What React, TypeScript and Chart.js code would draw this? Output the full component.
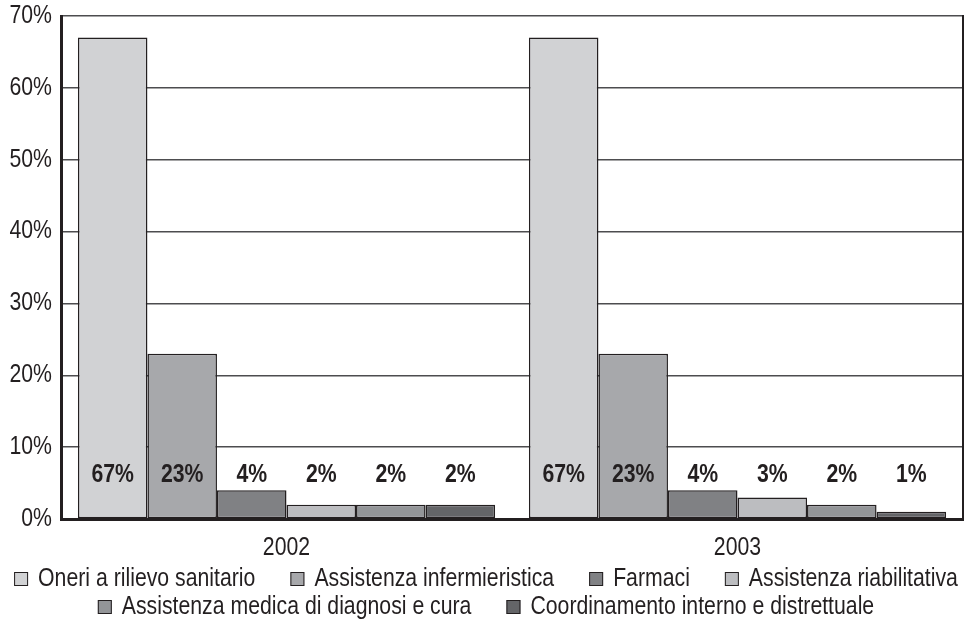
import React, { useEffect, useRef } from "react";
import { Chart, registerables } from "chart.js";

Chart.register(...registerables);

// Categories and series
const years = ["2002", "2003"];
const seriesNames = [
  "Oneri a rilievo sanitario",
  "Assistenza infermieristica",
  "Farmaci",
  "Assistenza riabilitativa",
  "Assistenza medica di diagnosi e cura",
  "Coordinamento interno e distrettuale",
];
// Share of spending (%) per series, one array per year
const values2002 = [67, 23, 4, 2, 2, 2];
const values2003 = [67, 23, 4, 3, 2, 1];
const seriesColors = ["#d1d2d4", "#a7a8ab", "#808184", "#bcbdc0", "#939598", "#646568"];
const yTicks = [0, 10, 20, 30, 40, 50, 60, 70];
// Legend rows (indices into seriesNames)
const legendRows = [
  [0, 1, 2, 3],
  [4, 5],
];

const FAMILY = "'Liberation Sans', Arial, Helvetica, sans-serif";
const INK = "#231f20";
// Horizontal squeeze giving a condensed look to the sans-serif face
const SQUEEZE = 0.85;

function squeezedText(
  ctx: CanvasRenderingContext2D,
  text: string,
  x: number,
  y: number,
  align: CanvasTextAlign,
  font: string
) {
  ctx.save();
  ctx.font = font;
  ctx.fillStyle = INK;
  ctx.textAlign = align;
  ctx.textBaseline = "middle";
  ctx.translate(x, y);
  ctx.scale(SQUEEZE, 1);
  ctx.fillText(text, 0, 0);
  ctx.restore();
}

function squeezedWidth(ctx: CanvasRenderingContext2D, text: string, font: string) {
  ctx.save();
  ctx.font = font;
  const w = ctx.measureText(text).width * SQUEEZE;
  ctx.restore();
  return w;
}

const REGULAR = `25px ${FAMILY}`;
const BOLD = `bold 25px ${FAMILY}`;

// Axis tick labels, bar value labels and the legend
const textLayer = {
  id: "textLayer",
  afterDraw(chart: any) {
    const { ctx, scales, chartArea } = chart;
    const xs = scales.x;
    const ys = scales.y;

    // frame on the right side of the plot
    ctx.save();
    ctx.strokeStyle = INK;
    ctx.lineWidth = 2;
    ctx.beginPath();
    ctx.moveTo(chartArea.right, chartArea.top - 1);
    ctx.lineTo(chartArea.right, chartArea.bottom);
    ctx.stroke();
    ctx.restore();

    yTicks.forEach((v) => {
      squeezedText(ctx, `${v}%`, chartArea.left - 9, ys.getPixelForValue(v), "right", REGULAR);
    });

    years.forEach((label, i) => {
      squeezedText(ctx, label, xs.getPixelForValue(i), chartArea.bottom + 29, "center", REGULAR);
    });

    const baseY = ys.getPixelForValue(0);
    chart.data.datasets.forEach((ds: any, i: number) => {
      const meta = chart.getDatasetMeta(i);
      meta.data.forEach((bar: any, j: number) => {
        squeezedText(ctx, `${ds.data[j]}%`, bar.x, baseY - 44, "center", BOLD);
      });
    });

    // legend
    const box = 14;
    const boxGap = 10;
    const itemGap = 35;
    const rowY = [579, 607];
    const centerX = 486;
    legendRows.forEach((row, r) => {
      const widths = row.map((k) => box + boxGap + squeezedWidth(ctx, seriesNames[k], REGULAR));
      const total = widths.reduce((a, b) => a + b, 0) + itemGap * (row.length - 1);
      let x = centerX - total / 2;
      row.forEach((k, n) => {
        const y = rowY[r];
        ctx.save();
        ctx.fillStyle = seriesColors[k];
        ctx.strokeStyle = INK;
        ctx.lineWidth = 1;
        ctx.fillRect(x, y - box / 2, box, box);
        ctx.strokeRect(x + 0.5, y - box / 2 + 0.5, box - 1, box - 1);
        ctx.restore();
        squeezedText(ctx, seriesNames[k], x + box + boxGap, y, "left", REGULAR);
        x += widths[n] + itemGap;
      });
    });
  },
};

export default function App() {
  const canvasRef = useRef<HTMLCanvasElement>(null);

  useEffect(() => {
    const canvas = canvasRef.current;
    if (!canvas) return;
    const chart = new Chart(canvas, {
      type: "bar",
      data: {
        labels: years,
        datasets: seriesNames.map((name, i) => ({
          label: name,
          data: [values2002[i], values2003[i]],
          backgroundColor: seriesColors[i],
          borderColor: INK,
          borderWidth: 1.5,
          borderSkipped: false,
          categoryPercentage: 0.925,
          barPercentage: 1,
        })),
      },
      options: {
        responsive: false,
        animation: false,
        layout: { padding: { top: 16, right: 4, left: 0, bottom: 0 } },
        plugins: {
          tooltip: { enabled: false },
          legend: { display: false },
        },
        scales: {
          x: {
            afterFit(scale: any) {
              scale.height = 104;
            },
            grid: { display: false, drawTicks: false },
            border: { display: true, color: INK, width: 3, z: 1 },
            ticks: { display: false },
          },
          y: {
            min: 0,
            max: 70,
            afterBuildTicks(scale: any) {
              scale.ticks = yTicks.map((v) => ({ value: v }));
            },
            afterFit(scale: any) {
              scale.width = 61;
            },
            grid: { color: "#4d4d4f", lineWidth: 1.5, drawTicks: false },
            border: { display: true, color: INK, width: 3, z: 1 },
            ticks: { display: false },
          },
        },
      },
      plugins: [textLayer],
    });
    return () => chart.destroy();
  }, []);

  return (
    <div style={{ position: "absolute", left: 0, top: 0, width: 967, height: 623, background: "#fff" }}>
      <canvas ref={canvasRef} width={967} height={623} style={{ display: "block" }} />
    </div>
  );
}
